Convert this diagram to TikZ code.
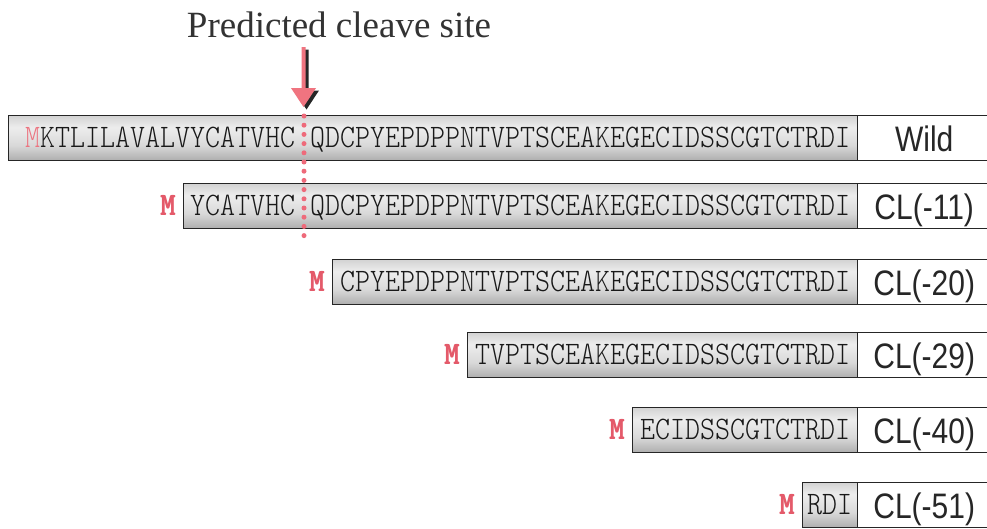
\documentclass[tikz,border=0pt]{standalone}
\usepackage{fontspec}
\usepackage{graphicx}
\setmainfont{Liberation Serif}
\newfontfamily\labfont{Liberation Sans}
\newfontfamily\seqfont{lmmonolt10-regular.otf}
\newfontfamily\seqbold{lmmonolt10-bold.otf}
\definecolor{mred}{HTML}{E45A6A}
\definecolor{mpink}{HTML}{EC7480}
\definecolor{arrred}{HTML}{F07480}
\definecolor{dotred}{HTML}{EE6A7A}
\pgfdeclareverticalshading{barshade}{100bp}{color(0bp)=(black!62); color(15bp)=(black!42); color(42bp)=(black!15); color(62bp)=(black!7); color(85bp)=(black!25); color(100bp)=(black!55)}
\begin{document}
\begin{tikzpicture}[x=1pt,y=-1pt,
  bar/.style={draw=black!85, line width=1.4pt, shading=barshade, inner sep=0pt, minimum height=45pt, anchor=north west},
  lab/.style={draw=black!85, line width=1.4pt, fill=white, inner sep=0pt, minimum height=45pt, text height=35.5pt, text depth=9.5pt, minimum width=133pt, anchor=north west, font=\labfont\fontsize{30}{30}\selectfont, text=black!85},
  seq/.style={anchor=base west, inner sep=0pt, font=\seqfont\fontsize{28.57}{30}\selectfont, text=black!90},
  met/.style={anchor=base east, inner sep=0pt, font=\seqbold\fontsize{28.57}{30}\selectfont, text=mred},
]
\clip (0,0) rectangle (987,528);
\fill[white] (0,0) rectangle (987,528);

% title
\node[anchor=base, inner sep=0pt, font=\fontsize{37}{40}\selectfont, text=black!80] (title) at (339,37) {Predicted cleave site};

% bars
\node[bar, minimum width=849pt] (b0) at (8,115) {};
\node[lab] (l0) at (857,115) {\scalebox{1}[1.18]{Wild}};
\node[seq] (s0) at (25,147) {\scalebox{1}[1.15]{{\color{mpink}M}KTLILAVALVYCATVHC\ QDCPYEPDPPNTVPTSCEAKEGECIDSSCGTCTRDI}};

\node[bar, minimum width=674pt] (b1) at (183,183) {};
\node[lab] (l1) at (857,183) {\scalebox{1}[1.18]{CL(-11)}};
\node[seq] (s1) at (190,215) {\scalebox{1}[1.15]{YCATVHC\ QDCPYEPDPPNTVPTSCEAKEGECIDSSCGTCTRDI}};
\node[met] (m1) at (176,215) {\scalebox{1}[1.15]{\rlap{M}\kern0.7pt M}};

\node[bar, minimum width=525pt] (b2) at (332,259) {};
\node[lab] (l2) at (857,259) {\scalebox{1}[1.18]{CL(-20)}};
\node[seq] (s2) at (340,291) {\scalebox{1}[1.15]{CPYEPDPPNTVPTSCEAKEGECIDSSCGTCTRDI}};
\node[met] (m2) at (325,291) {\scalebox{1}[1.15]{\rlap{M}\kern0.7pt M}};

\node[bar, minimum width=390pt] (b3) at (467,332) {};
\node[lab] (l3) at (857,332) {\scalebox{1}[1.18]{CL(-29)}};
\node[seq] (s3) at (475,364) {\scalebox{1}[1.15]{TVPTSCEAKEGECIDSSCGTCTRDI}};
\node[met] (m3) at (460,364) {\scalebox{1}[1.15]{\rlap{M}\kern0.7pt M}};

\node[bar, minimum width=225pt] (b4) at (632,407) {};
\node[lab] (l4) at (857,407) {\scalebox{1}[1.18]{CL(-40)}};
\node[seq] (s4) at (640,439) {\scalebox{1}[1.15]{ECIDSSCGTCTRDI}};
\node[met] (m4) at (625,439) {\scalebox{1}[1.15]{\rlap{M}\kern0.7pt M}};

\node[bar, minimum width=55pt] (b5) at (802,482) {};
\node[lab] (l5) at (857,482) {\scalebox{1}[1.18]{CL(-51)}};
\node[seq] (s5) at (807,514) {\scalebox{1}[1.15]{RDI}};
\node[met] (m5) at (795,514) {\scalebox{1}[1.15]{\rlap{M}\kern0.7pt M}};

% arrow with shadow
\fill[black!85, shift={(3,2.5)}] (301.5,47) -- (305.5,47) -- (305.5,88) -- (316,88) -- (303.5,107) -- (291,88) -- (301.5,88) -- cycle;
\fill[arrred] (301.5,47) -- (305.5,47) -- (305.5,88) -- (316,88) -- (303.5,107) -- (291,88) -- (301.5,88) -- cycle;

% dotted cleave line
\coordinate (ds) at (304,116);
\coordinate (de) at (304,238);
\draw[dotred, line width=5pt, line cap=round, dash pattern=on 0pt off 9.2pt] (ds) -- (de);
\end{tikzpicture}
\end{document}
